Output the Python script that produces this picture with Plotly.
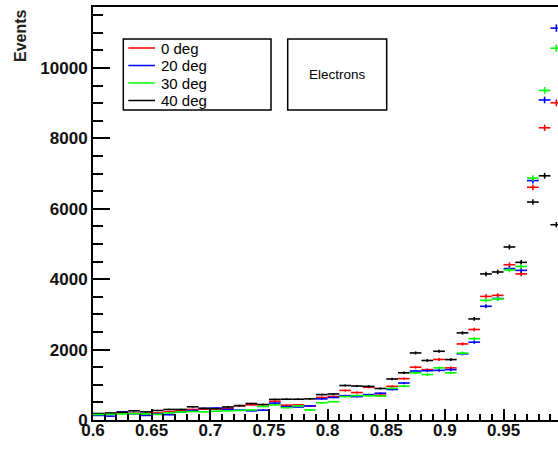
import numpy as np
import plotly.graph_objects as go

# ---- data (bin centers, counts per series) ----
bin_centers = [round(0.605 + 0.01 * i, 3) for i in range(40)]
bin_half_width = 0.005

deg0 = [150, 170, 200, 190, 170, 200, 240, 260, 300, 310,
        320, 330, 400, 430, 390, 530, 420, 430, 400, 640,
        670, 840, 780, 930, 705, 955, 1175, 1500, 1430, 1720,
        1480, 2160, 2570, 3510, 3540, 4410, 4150, 6610, 8300, 9010]
deg20 = [130, 110, 230, 180, 130, 170, 150, 230, 270, 330,
         340, 300, 280, 260, 280, 480, 380, 370, 400, 600,
         640, 690, 665, 720, 760, 868, 1050, 1390, 1400, 1410,
         1430, 1880, 2210, 3230, 3450, 4300, 4250, 6800, 9090, 11130]
deg30 = [155, 160, 170, 180, 170, 158, 200, 230, 240, 230,
         250, 260, 270, 285, 385, 428, 350, 400, 285, 490,
         520, 665, 695, 690, 680, 900, 960, 1340, 1290, 1480,
         1340, 1900, 2310, 3400, 3440, 4260, 4360, 6870, 9360, 10560]
deg40 = [185, 200, 220, 260, 230, 270, 300, 300, 375, 330,
         320, 370, 410, 468, 440, 585, 590, 590, 600, 722,
         740, 980, 965, 955, 895, 1165, 1340, 1905, 1690, 1952,
         1716, 2474, 2871, 4148, 4204, 4914, 4477, 6190, 6936, 5546]

series_names = ["0 deg", "20 deg", "30 deg", "40 deg"]
series_values = [deg0, deg20, deg30, deg40]
series_colors = ["#ff0000", "#0000ff", "#00ff00", "#000000"]
draw_order = [0, 1, 3, 2]

x_ticks = [0.6, 0.65, 0.7, 0.75, 0.8, 0.85, 0.9, 0.95]
x_tick_labels = ["0.6", "0.65", "0.7", "0.75", "0.8", "0.85", "0.9", "0.95"]
y_ticks = [0, 2000, 4000, 6000, 8000, 10000]
y_tick_labels = ["0", "2000", "4000", "6000", "8000", "10000"]
y_title = "Events"
label_text = "Electrons"

# ---- layout geometry (pixels) ----
W, H = 558, 455
L, R, T, B = 93, 0, 7, 35
PW, PH = W - L - R, H - T - B


def pxx(x):
    return (x - L) / PW


def pxy(y):
    return 1 - (y - T) / PH


FONT = "Liberation Sans, Arial, sans-serif"

fig = go.Figure()
for i in draw_order:
    vals = np.array(series_values[i], dtype=float)
    fig.add_trace(go.Scatter(
        x=bin_centers, y=vals, mode="markers", name=series_names[i],
        marker=dict(size=1, color=series_colors[i]),
        error_x=dict(type="constant", value=bin_half_width, width=0,
                     thickness=1.6, color=series_colors[i]),
        error_y=dict(type="data", array=np.sqrt(vals), width=0,
                     thickness=1.6, color=series_colors[i]),
        showlegend=False,
    ))

shapes = []
annotations = []

# legend box (drawn like the ROOT TLegend)
lx0, lx1, ly0, ly1 = 123.3, 271, 39, 110
shapes.append(dict(type="rect", xref="paper", yref="paper",
                   x0=pxx(lx0), x1=pxx(lx1), y0=pxy(ly1), y1=pxy(ly0),
                   line=dict(color="black", width=1.5), fillcolor="white", layer="above"))
entry_y = [48.0, 65.5, 83.0, 100.5]
for name, col, ey in zip(series_names, series_colors, entry_y):
    shapes.append(dict(type="line", xref="paper", yref="paper",
                       x0=pxx(128.3), x1=pxx(155), y0=pxy(ey), y1=pxy(ey),
                       line=dict(color=col, width=1.5), layer="above"))
    annotations.append(dict(xref="paper", yref="paper", x=pxx(158.5), y=pxy(ey),
                            text=name, showarrow=False, xanchor="left", yanchor="middle",
                            font=dict(family=FONT, size=15, color="black")))

# "Electrons" text box
shapes.append(dict(type="rect", xref="paper", yref="paper",
                   x0=pxx(287.7), x1=pxx(386.7), y0=pxy(110), y1=pxy(39),
                   line=dict(color="black", width=1.5), fillcolor="white", layer="above"))
annotations.append(dict(xref="paper", yref="paper", x=pxx(337.2), y=pxy(75),
                        text=label_text, showarrow=False, xanchor="center", yanchor="middle",
                        font=dict(family=FONT, size=13.5, color="black")))

# y-axis title, right-adjusted at top like ROOT
annotations.append(dict(xref="paper", yref="paper", x=pxx(20.5), y=pxy(35.5),
                        text=y_title, showarrow=False, textangle=-90,
                        xanchor="center", yanchor="middle",
                        font=dict(family=FONT, size=16, color="#222222", weight="bold")))

fig.update_layout(
    width=W, height=H,
    margin=dict(l=L, r=R, t=T, b=B, pad=0),
    paper_bgcolor="white", plot_bgcolor="white",
    shapes=shapes, annotations=annotations,
    showlegend=False,
)
fig.update_xaxes(
    range=[0.6, 0.6 + PW / 1173.0],
    tickmode="array", tickvals=x_ticks, ticktext=x_tick_labels,
    ticks="inside", ticklen=11, tickwidth=1.5, tickcolor="black",
    minor=dict(tickmode="linear", tick0=0.6, dtick=0.01, ticks="inside",
               ticklen=6, tickwidth=1.5, tickcolor="black"),
    showline=True, linewidth=2, linecolor="black", mirror=True,
    showgrid=False, zeroline=False, ticklabelstandoff=-6,
    tickfont=dict(family=FONT, size=17, color="#111111", weight="bold"),
)
fig.update_yaxes(
    range=[0, 11730],
    tickmode="array", tickvals=y_ticks, ticktext=y_tick_labels,
    ticks="inside", ticklen=17, tickwidth=1.5, tickcolor="black",
    minor=dict(tickmode="linear", tick0=0, dtick=500, ticks="inside",
               ticklen=10, tickwidth=1.5, tickcolor="black"),
    showline=True, linewidth=2, linecolor="black", mirror=False,
    showgrid=False, zeroline=False,
    tickfont=dict(family=FONT, size=17, color="#111111", weight="bold"),
)

fig.write_html("out.html", config={"displayModeBar": False},
               post_script="document.body.style.margin='0';document.body.style.overflow='hidden';")
